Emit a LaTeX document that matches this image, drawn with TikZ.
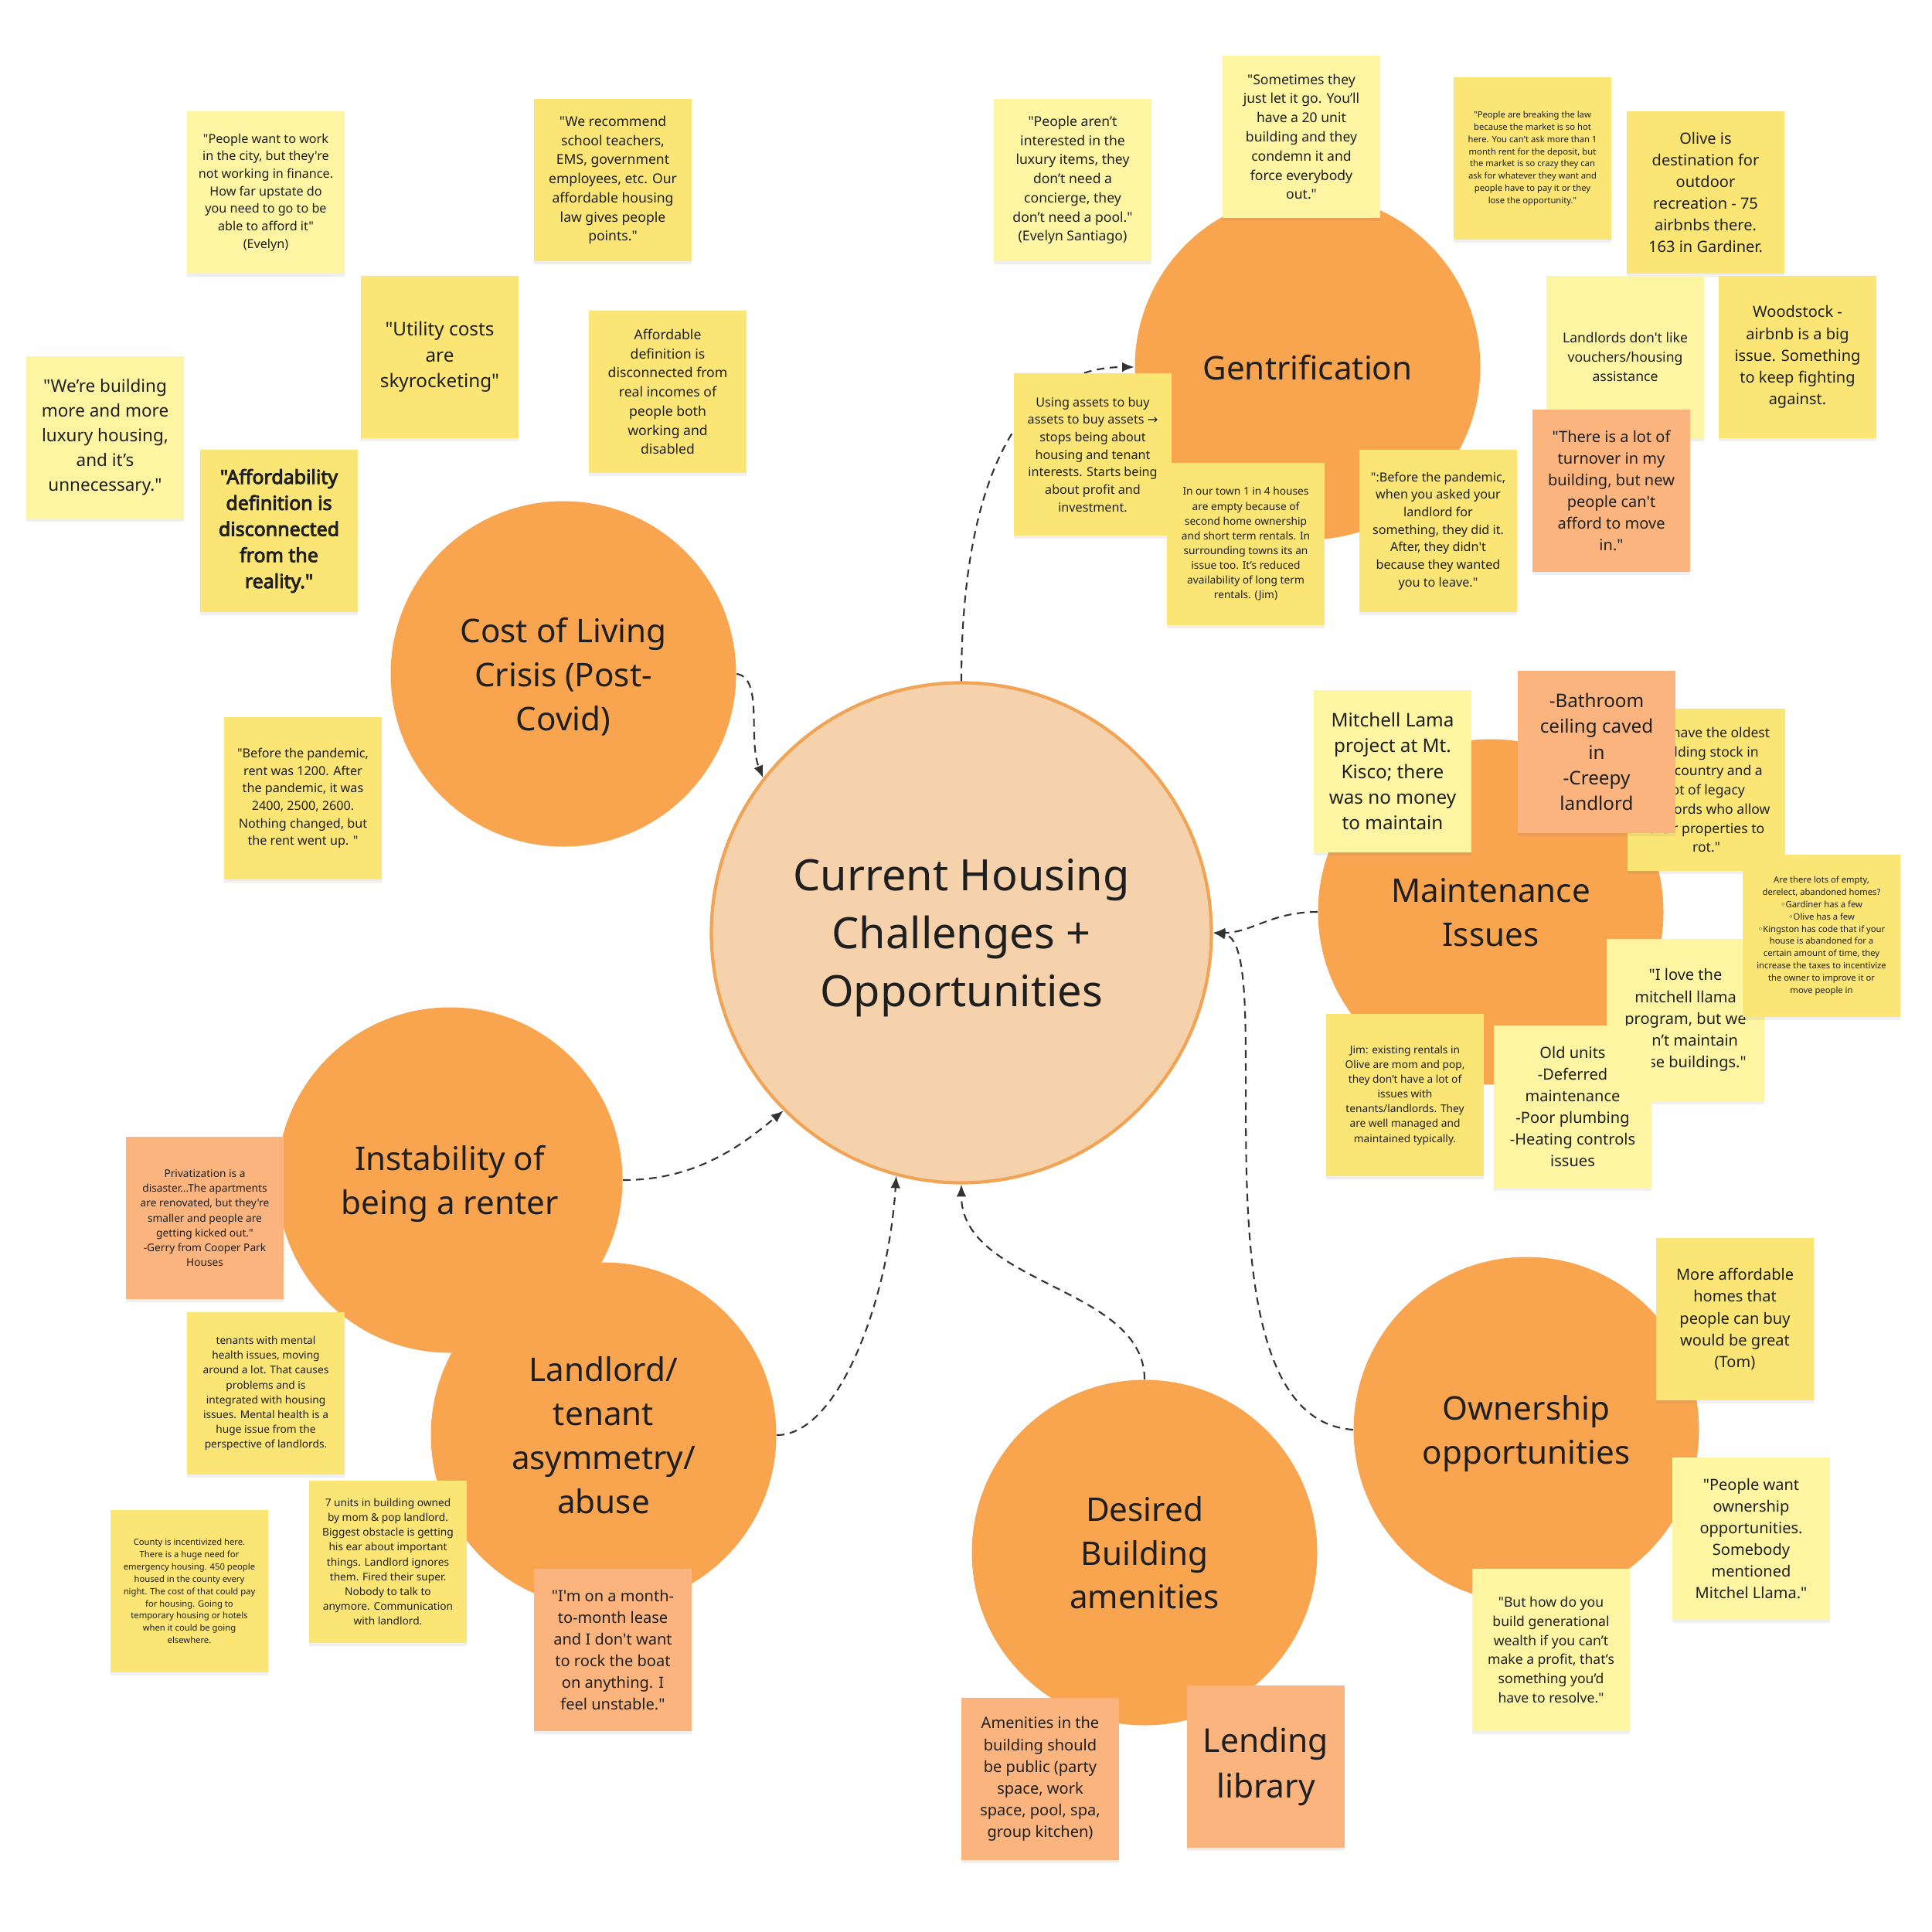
\documentclass[tikz,border=0pt]{standalone}
\usepackage{fontspec}
\setmainfont{Noto Sans}[Ligatures=TeXOff]
\newfontfamily\symbfont{DejaVu Sans}
\newfontfamily\boldnote{Noto Sans}[Ligatures=TeXOff, FakeBold=3.5]
\usepackage{xcolor}
\usepackage{tikz}
\usetikzlibrary{arrows.meta,shadows}

\definecolor{ink}{HTML}{1F1F1F}
\definecolor{noteyellow}{HTML}{FBE574}
\definecolor{notepale}{HTML}{FEF5A3}
\definecolor{noteorange}{HTML}{FBB47E}
\definecolor{topicorange}{HTML}{F9A44F}
\definecolor{hubfill}{HTML}{F5D2AB}
\definecolor{hubline}{HTML}{F2A456}
\definecolor{linkgray}{HTML}{333333}

\begin{document}
\begin{tikzpicture}[
  hub/.style={circle, fill=hubfill, draw=hubline, line width=1.2pt, minimum size=6.47cm, inner sep=0pt, text depth=0pt, align=center, text=ink, font=\fontsize{15.9}{21.3}\selectfont},
  topic/.style={circle, fill=topicorange, minimum size=4.47cm, inner sep=0pt, text depth=0pt, align=center, text=ink, font=\fontsize{12}{16.2}\selectfont},
  note/.style={fill=noteyellow, minimum width=2.04cm, minimum height=2.1cm, inner sep=1pt, align=center, text=ink, drop shadow={shadow xshift=0pt, shadow yshift=-1.2pt, opacity=0.12}},
  pale/.style={note, fill=notepale},
  warm/.style={note, fill=noteorange},
  tinytxt/.style={font=\fontsize{3.2}{4.5}\selectfont},
  xstxt/.style={font=\fontsize{3.9}{5.45}\selectfont},
  smtxt/.style={font=\fontsize{4.6}{6.45}\selectfont},
  mdtxt/.style={font=\fontsize{5.0}{7.05}\selectfont},
  lgtxt/.style={font=\fontsize{5.7}{8}\selectfont},
  xltxt/.style={font=\fontsize{6.9}{9.5}\selectfont},
  boldtxt/.style={font=\boldnote\fontsize{7.1}{9.6}\selectfont},
  hugetxt/.style={font=\fontsize{12.1}{16.8}\selectfont},
  arr/.style={-{Latex[length=4.5pt,width=3.6pt]}, line width=0.6pt, linkgray, dash pattern=on 2.8pt off 2pt}
]
  \useasboundingbox[fill=white] (0,0) rectangle (25,-25);

  % Topics
  \node[topic] (gent) at (16.92,-4.75) {Gentrification};
  \node[topic] (cost) at (7.29,-8.72) {Cost of Living\\Crisis (Post-\\Covid)};
  \node[topic] (maint) at (19.29,-11.80) {Maintenance\\Issues};
  \node[topic] (inst) at (5.82,-15.27) {Instability of\\being a renter};
  \node[topic] (land) at (7.81,-18.57) {Landlord/\\tenant\\asymmetry/\\abuse};
  \node[topic] (amen) at (14.81,-20.09) {Desired\\Building\\amenities};
  \node[topic] (own) at (19.75,-18.50) {Ownership\\opportunities};
  \node[hub] (hub) at (12.44,-12.07) {Current Housing\\Challenges +\\Opportunities};

  % Links
  \draw[arr] (hub.north) .. controls +(0,2.45) and +(-1.56,0) .. (gent.west);
  \draw[arr] (cost.east) .. controls +(0.35,-0.05) and +(-0.2,0.5) .. (hub.142);
  \draw[arr] (maint.west) .. controls +(-0.6,0) and +(0.5,0) .. (hub.east);
  \draw[arr] (own.west) .. controls +(-2.2,0.15) and +(0.9,-0.13) .. (hub.east);
  \draw[arr] (inst.east) .. controls +(0.9,0) and +(-0.6,-0.5) .. (hub.225);
  \draw[arr] (land.east) .. controls +(0.8,0) and +(-0.1,-1.6) .. (hub.255);
  \draw[arr] (amen.north) .. controls +(0,1.2) and +(0,-1.3) .. (hub.south);

  % Cost of living notes
  \node[pale, smtxt] (evelyn) at (3.44,-2.49) {"People want to work\\in the city, but they're\\not working in finance.\\How far upstate do\\you need to go to be\\able to afford it"\\(Evelyn)};
  \node[note, mdtxt] (teachers) at (7.93,-2.33) {"We recommend\\school teachers,\\EMS, government\\employees, etc. Our\\affordable housing\\law gives people\\points."};
  \node[note, xltxt] (utility) at (5.69,-4.62) {"Utility costs\\are\\skyrocketing"};
  \node[pale, font=\fontsize{6.4}{9.1}\selectfont] (luxury) at (1.36,-5.66) {"We’re building\\more and more\\luxury housing,\\and it’s\\unnecessary."};
  \node[note, boldtxt] (afford) at (3.61,-6.87) {"Affordability\\definition is\\disconnected\\from the\\reality."};
  \node[note, mdtxt] (incomes) at (8.64,-5.07) {Affordable\\definition is\\disconnected from\\real incomes of\\people both\\working and\\disabled};
  \node[note, smtxt] (rent) at (3.92,-10.33) {"Before the pandemic,\\rent was 1200. After\\the pandemic, it was\\2400, 2500, 2600.\\Nothing changed, but\\the rent went up. "};

  % Gentrification notes
  \node[pale, mdtxt] (pool) at (13.88,-2.33) {"People aren’t\\interested in the\\luxury items, they\\don’t need a\\concierge, they\\don’t need a pool."\\(Evelyn Santiago)};
  \node[pale, mdtxt] (condemn) at (16.84,-1.77) {"Sometimes they\\just let it go. You’ll\\have a 20 unit\\building and they\\condemn it and\\force everybody\\out."};
  \node[note, tinytxt] (deposit) at (19.83,-2.05) {"People are breaking the law\\because the market is so hot\\here. You can't ask more than 1\\month rent for the deposit, but\\the market is so crazy they can\\ask for whatever they want and\\people have to pay it or they\\lose the opportunity."};
  \node[note, lgtxt] (olive) at (22.07,-2.49) {Olive is\\destination for\\outdoor\\recreation - 75\\airbnbs there.\\163 in Gardiner.};
  \node[pale, mdtxt] (vouchers) at (21.03,-4.62) {Landlords don't like\\vouchers/housing\\assistance};
  \node[note, lgtxt] (woodstock) at (23.26,-4.62) {Woodstock -\\airbnb is a big\\issue. Something\\to keep fighting\\against.};
  \node[warm, lgtxt] (turnover) at (20.85,-6.35) {"There is a lot of\\turnover in my\\building, but new\\people can't\\afford to move\\in."};
  \node[note, smtxt] (assets) at (14.14,-5.88) {Using assets to buy\\assets to buy assets {\symbfont →}\\stops being about\\housing and tenant\\interests. Starts being\\about profit and\\investment.};
  \node[note, xstxt] (emptyhomes) at (16.12,-7.04) {In our town 1 in 4 houses\\are empty because of\\second home ownership\\and short term rentals. In\\surrounding towns its an\\issue too. It’s reduced\\availability of long term\\rentals. (Jim)};
  \node[note, smtxt] (leave) at (18.61,-6.87) {":Before the pandemic,\\when you asked your\\landlord for\\something, they did it.\\After, they didn't\\because they wanted\\you to leave."};

  % Maintenance notes
  \node[pale, xltxt] (mitchell) at (18.02,-9.98) {Mitchell Lama\\project at Mt.\\Kisco; there\\was no money\\to maintain};
  \node[note, mdtxt] (oldstock) at (22.08,-10.22) {"We have the oldest\\building stock in\\the country and a\\lot of legacy\\landlords who allow\\their properties to\\rot."};
  \node[warm, xltxt] (bathroom) at (20.66,-9.73) {-Bathroom\\ceiling caved\\in\\-Creepy\\landlord};
  \node[pale, lgtxt] (llama) at (21.81,-13.20) {"I love the\\mitchell llama\\program, but we\\don’t maintain\\these buildings."};
  \node[note, tinytxt] (derelict) at (23.57,-12.11) {Are there lots of empty,\\derelect, abandoned homes?\\{\symbfont ◦}Gardiner has a few\\{\symbfont ◦}Olive has a few\\{\symbfont ◦}Kingston has code that if your\\house is abandoned for a\\certain amount of time, they\\increase the taxes to incentivize\\the owner to improve it or\\move people in};
  \node[pale, lgtxt] (oldunits) at (20.35,-14.32) {Old units\\-Deferred\\maintenance\\-Poor plumbing\\-Heating controls\\issues};
  \node[note, xstxt] (jim) at (18.18,-14.17) {Jim: existing rentals in\\Olive are mom and pop,\\they don’t have a lot of\\issues with\\tenants/landlords. They\\are well managed and\\maintained typically.};

  % Renter and landlord notes
  \node[warm, xstxt] (privat) at (2.65,-15.76) {Privatization is a\\disaster...The apartments\\are renovated, but they're\\smaller and people are\\getting kicked out."\\-Gerry from Cooper Park\\Houses};
  \node[note, xstxt] (mental) at (3.44,-18.03) {tenants with mental\\health issues, moving\\around a lot. That causes\\problems and is\\integrated with housing\\issues. Mental health is a\\huge issue from the\\perspective of landlords.};
  \node[note, tinytxt] (county) at (2.45,-20.59) {County is incentivized here.\\There is a huge need for\\emergency housing. 450 people\\housed in the county every\\night. The cost of that could pay\\for housing. Going to\\temporary housing or hotels\\when it could be going\\elsewhere.};
  \node[note, xstxt] (units) at (5.02,-20.21) {7 units in building owned\\by mom \& pop landlord.\\Biggest obstacle is getting\\his ear about important\\things. Landlord ignores\\them. Fired their super.\\Nobody to talk to\\anymore. Communication\\with landlord.};
  \node[warm, lgtxt] (monthly) at (7.93,-21.35) {"I'm on a month-\\to-month lease\\and I don't want\\to rock the boat\\on anything. I\\feel unstable."};

  % Amenity notes
  \node[warm, lgtxt] (amenpub) at (13.46,-23.02) {Amenities in the\\building should\\be public (party\\space, work\\space, pool, spa,\\group kitchen)};
  \node[warm, hugetxt] (lending) at (16.38,-22.86) {Lending\\library};

  % Ownership notes
  \node[note, lgtxt] (buyhomes) at (22.45,-17.07) {More affordable\\homes that\\people can buy\\would be great\\(Tom)};
  \node[pale, lgtxt] (ownwant) at (22.66,-19.91) {"People want\\ownership\\opportunities.\\Somebody\\mentioned\\Mitchel Llama."};
  \node[pale, mdtxt] (wealth) at (20.07,-21.35) {"But how do you\\build generational\\wealth if you can’t\\make a profit, that’s\\something you’d\\have to resolve."};
\end{tikzpicture}
\end{document}
